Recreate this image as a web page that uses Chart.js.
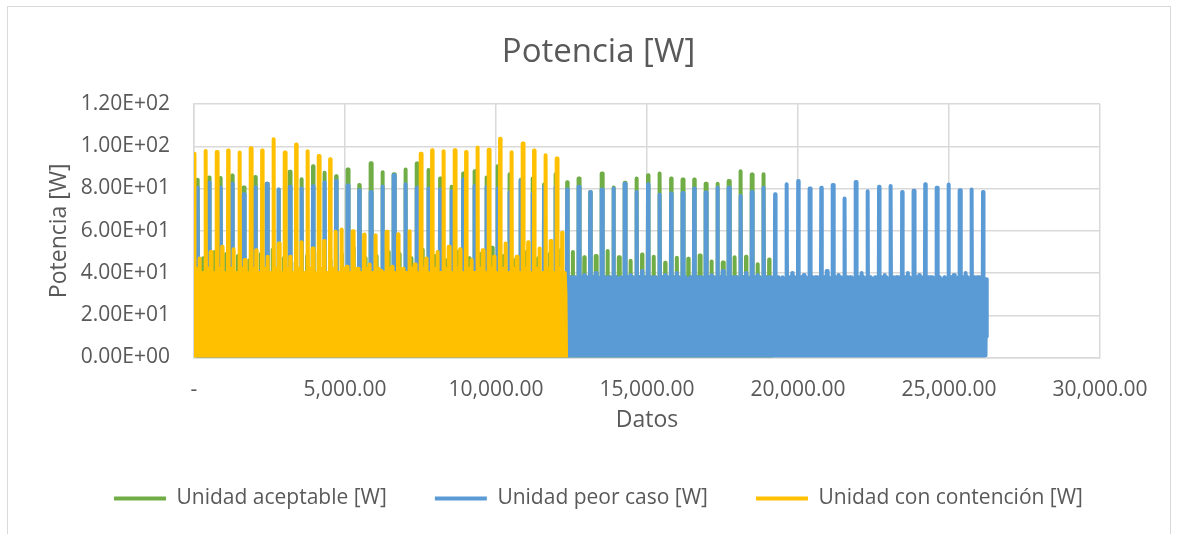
<!DOCTYPE html>
<html><head><meta charset="utf-8">
<script src="https://cdn.jsdelivr.net/npm/chart.js@4"></script>
<style>
html,body{margin:0;padding:0;background:#fff;}
#wrap{position:relative;width:1177px;height:534px;overflow:hidden;background:#fff;}
#frame{position:absolute;left:7px;top:6px;width:1162px;height:600px;border:1px solid #d9d9d9;pointer-events:none;}
canvas{position:absolute;left:0;top:0;}
</style></head><body>
<div id="wrap"><canvas id="c" width="1177" height="534"></canvas><div id="frame"></div></div>
<script>
// ---------------- data ----------------
const chartTitle = 'Potencia [W]';
const xTitle = 'Datos';
const yTitle = 'Potencia [W]';
const seriesLabels = ['Unidad aceptable [W]', 'Unidad peor caso [W]', 'Unidad con contención [W]'];
const seriesColors = ['#70AD47', '#5B9BD5', '#FFC000'];
const xTickLabels = ['-', '5,000.00', '10,000.00', '15,000.00', '20,000.00', '25,000.00', '30,000.00'];
const yTickLabels = ['0.00E+00', '2.00E+01', '4.00E+01', '6.00E+01', '8.00E+01', '1.00E+02', '1.20E+02'];

// main spike height of each cycle
const greenPeaks = [84.2, 85.2, 85.0, 86.1, 80.5, 85.5, 82.3, 79.5, 87.9, 84.4,
  90.5, 87.4, 85.8, 89.0, 81.7, 92.0, 87.7, 86.8, 89.0, 91.8,
  88.7, 84.7, 80.8, 87.1, 88.2, 85.2, 90.5, 86.8, 84.2, 84.7,
  81.9, 86.8, 83.0, 84.7, 78.4, 87.1, 80.5, 82.7, 84.7, 86.3,
  87.1, 84.7, 84.3, 84.3, 82.3, 82.3, 83.5, 88.2, 86.6, 86.8];
const greenSecond = [47, 50, 49, 48, 46, 49, 51, 47, 45, 48,
  50, 46, 49, 52, 47, 48, 50, 49, 47, 51,
  48, 46, 50, 47, 49, 52, 48, 46, 50, 47,
  49, 51, 50, 47.4, 48.1, 50.4, 47.4, 45.8, 48.8, 47.7,
  44.8, 47.2, 46.7, 48.3, 45.5, 45.0, 47.4, 47.7, 44.2, 46.4];
const bluePeaks = [80.3, 82.8, 80.5, 82.3, 77.3, 80.6, 82.2, 79.5, 80.8, 80.0,
  81.1, 82.8, 83.6, 81.4, 79.2, 78.4, 80.9, 86.3, 82.0, 80.3,
  80.0, 79.7, 78.7, 84.3, 81.2, 80.8, 80.0, 78.4, 83.9, 77.6,
  80.8, 80.8, 79.5, 80.8, 78.4, 79.5, 80.0, 82.3, 78.4, 82.0,
  77.2, 77.6, 77.9, 80.0, 78.1, 80.3, 80.3, 76.4, 78.4, 80.3,
  77.3, 82.0, 83.6, 80.0, 80.3, 81.6, 75.3, 83.1, 78.7, 80.8,
  81.2, 78.4, 78.9, 82.0, 80.3, 81.9, 79.2, 79.5, 78.4];
const blueSecond = [39, 38, 40, 37, 39, 41, 38, 39, 37, 40,
  38, 39, 41, 37, 38, 40, 39, 38, 37, 40,
  39, 38, 41, 39, 37, 38, 40, 39, 38, 37,
  39, 40, 38, 39, 40, 38, 37, 39, 41, 38,
  39, 40, 37, 38, 39, 41, 38, 40, 39, 38,
  37, 40, 39, 38, 41, 39, 38, 40, 37, 39,
  38, 40, 39, 38, 37, 39, 40, 38, 39];
const yellowPeaks = [96.5, 97.8, 97.3, 98.0, 97.0, 99.0, 98.0, 103.3, 97.0, 100.8,
  97.6, 95.4, 93.9, 60.6, 59.8, 58.2, 57.9, 59.5, 58.4, 59.8,
  96.5, 98.1, 97.6, 98.1, 97.3, 99.4, 98.4, 103.6, 97.2, 101.3,
  98.0, 95.7, 94.2];
const yellowSecond = [46.9, 50.0, 52.4, 51.2, 46.1, 50.8, 47.7, 54.0, 47.7, 54.5,
  51.6, 55.2, 59.5, 43, 42, 44, 41, 43, 42, 44,
  46.9, 50.0, 52.4, 51.2, 46.1, 50.8, 47.7, 54.0, 47.7, 54.5,
  51.6, 55.2, 59.0];

// where each series' first spike sits, its cycle length and its last sample (Datos)
const firstPeakX = [116, 116, 5];
const cycleLength = [382.5, 382.5, 375.2];
const lastSampleX = [19100, 26250, 12320];

// low-level band inside one cycle: [fraction of cycle, W]; -1 = main spike, -2 = second spike
const bandShapeGB = [[0.00, 3], [0.025, -1], [0.055, -1], [0.08, 0], [0.12, 36], [0.16, 4], [0.20, 31], [0.24, 1], [0.28, 38],
  [0.32, 6], [0.36, 29], [0.40, 0], [0.44, 35], [0.48, 2], [0.51, -2], [0.53, -2], [0.56, 0], [0.60, 33], [0.64, 5],
  [0.68, 38], [0.72, 1], [0.76, 30], [0.80, 3], [0.84, 36], [0.88, 0], [0.92, 34], [0.95, 4], [0.98, 29]];
const bandShapeY = [[0.00, 2], [0.015, -1], [0.045, -1], [0.07, 0], [0.10, 28], [0.14, 3], [0.18, 35], [0.22, 0], [0.26, 42],
  [0.30, 5], [0.34, 31], [0.38, 1], [0.42, 37], [0.46, 4], [0.49, -2], [0.51, -2], [0.54, 0], [0.58, 33], [0.62, 2],
  [0.66, 27], [0.70, 6], [0.74, 40], [0.78, 0], [0.82, 29], [0.86, 3], [0.90, 36], [0.94, 1], [0.97, 25]];

// ---------------- build point lists ----------------
function buildSeries(peaks, seconds, shape, firstPeak, per, endX, startVal, endVals) {
  const peakFrac = shape.find(p => p[1] === -1)[0];
  const start = firstPeak - peakFrac * per;
  const pts = [{x: 0, y: startVal}];
  for (let k = 0; k < peaks.length; k++) {
    const c0 = start + k * per;
    for (const [f, v] of shape) {
      const x = c0 + f * per;
      if (x <= 0 || x > endX - 30) continue;
      const y = v === -1 ? peaks[k] : (v === -2 ? seconds[k] : v);
      pts.push({x, y});
    }
  }
  endVals.forEach((v, i) => pts.push({x: endX - 20 + i * 20, y: v}));
  return pts;
}
const greenData = buildSeries(greenPeaks, greenSecond, bandShapeGB, firstPeakX[0], cycleLength[0], lastSampleX[0], 20, [30, 0]);
const blueData = buildSeries(bluePeaks, blueSecond, bandShapeGB, firstPeakX[1], cycleLength[1], lastSampleX[1], 20, [37, 10]);
const yellowData = buildSeries(yellowPeaks, yellowSecond, bandShapeY, firstPeakX[2], cycleLength[2], lastSampleX[2], 20, [30, 0]);

// ---------------- chart ----------------
const FONT = "'Open Sans', 'Noto Sans', sans-serif";
const GREY = '#595959';
const GRID = '#d9d9d9';
Chart.defaults.font.family = FONT;
Chart.defaults.color = GREY;

const mkDs = (i, data, order) => ({
  label: seriesLabels[i], data, order,
  borderColor: seriesColors[i], backgroundColor: seriesColors[i],
  borderWidth: 4, pointRadius: 0, pointHoverRadius: 0, tension: 0, fill: false,
  borderCapStyle: 'round', borderJoinStyle: 'round'
});

new Chart(document.getElementById('c'), {
  type: 'line',
  data: {datasets: [mkDs(0, greenData, 3), mkDs(1, blueData, 2), mkDs(2, yellowData, 1)]},
  options: {
    responsive: false, animation: false, parsing: false, normalized: true,
    events: [],
    layout: {padding: {left: 20, right: 0, top: 0, bottom: 15}},
    plugins: {
      tooltip: {enabled: false},
      title: {display: true, text: chartTitle, color: GREY,
        font: {size: 33, weight: 'normal', family: FONT}, padding: {top: 33, bottom: 31.4}},
      legend: {position: 'bottom', align: 'center',
        labels: {color: GREY, font: {size: 21, family: FONT}, boxWidth: 52, boxHeight: 4, padding: 48,
          sort: (a, b) => a.datasetIndex - b.datasetIndex,
          generateLabels: (chart) => Chart.defaults.plugins.legend.labels.generateLabels(chart)
            .map(l => Object.assign(l, {lineWidth: 0, strokeStyle: 'rgba(0,0,0,0)'}))}}
    },
    scales: {
      x: {type: 'linear', min: 0, max: 30000,
        afterFit: s => { s.height = 82.5; },
        ticks: {stepSize: 5000, autoSkip: false, maxRotation: 0, padding: 20, color: GREY,
          font: {size: 21, family: FONT}, callback: (v, i) => xTickLabels[i]},
        grid: {color: GRID, lineWidth: 1.5, drawTicks: false},
        border: {color: GRID, width: 1.5},
        title: {display: true, text: xTitle, color: GREY, font: {size: 23, family: FONT}, padding: {top: 0, bottom: 5.6}}
      },
      y: {type: 'linear', min: 0, max: 120, position: 'left',
        afterFit: s => { s.width = 174; },
        ticks: {stepSize: 20, padding: 24, color: GREY, font: {size: 21, family: FONT},
          callback: (v, i) => yTickLabels[i]},
        grid: {color: GRID, lineWidth: 1.5, drawTicks: false},
        border: {color: GRID, width: 1.5},
        title: {display: true, text: yTitle, color: GREY, font: {size: 23, family: FONT}, padding: {top: 25.2, bottom: 0}}
      },
      yR: {type: 'linear', position: 'right', display: true,
        afterFit: s => { s.width = 77; },
        ticks: {display: false}, grid: {display: false, drawTicks: false}, border: {display: false}}
    }
  }
});
</script>
</body></html>
